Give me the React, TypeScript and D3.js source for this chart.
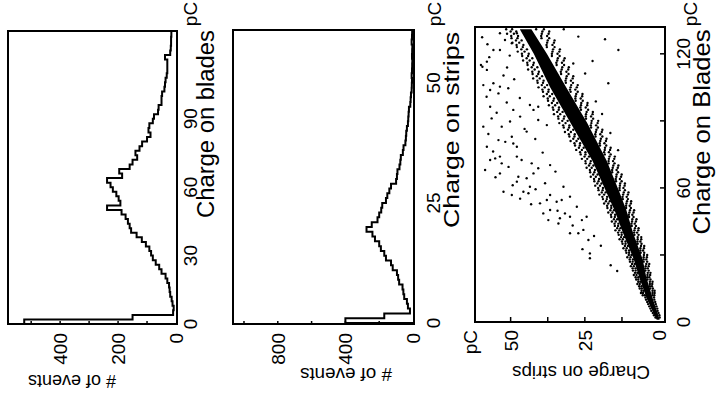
import React from 'react';
import * as d3 from 'd3';

// ---------- DATA ----------
// Panel 1: histogram of charge on blades (2 pC bins starting at 0)
const bladesBinWidth = 2;
const bladesCounts = [
  524, 150, 10, 8, 12, 15, 20, 22, 24, 30,
  36, 50, 58, 70, 80, 86, 92, 104, 118, 136,
  155, 160, 166, 174, 188, 238, 192, 198, 206, 218,
  226, 238, 186, 196, 160, 150, 134, 140, 126, 117,
  100, 88, 95, 92, 80, 76, 62, 60, 50, 50,
  48, 40, 38, 36, 32, 30, 30, 30, 38, 20,
  18, 17, 17, 16, 16,
];
const bladesTicks = [0, 30, 60, 90];
const events1Ticks = [0, 200, 400];
const events1Minor = [100, 200, 300, 400, 500];

// Panel 2: histogram of charge on strips (1 pC bins starting at 0)
const stripsBinWidth = 1;
const stripsCounts = [
  400, 170, 18, 30, 36, 52, 57, 62, 82, 88,
  95, 120, 130, 160, 170, 190, 200, 225, 240, 275,
  244, 210, 200, 188, 182, 160, 152, 140, 130, 100,
  95, 92, 80, 75, 72, 60, 56, 45, 42, 40,
  36, 30, 28, 26, 24, 16, 14, 12, 8, 7,
  6, 8, 6, 5, 4, 6, 5, 4, 8, 6,
  5,
];
const stripsTicks = [0, 25, 50];
const events2Ticks = [0, 400, 800];
const events2Minor = [200, 400, 600, 800, 1000];

// Panel 3: scatter, charge on strips vs charge on blades
const scBladesTicks = [0, 60, 120];
const scBladesMinor = [30, 60, 90, 120];
const scStripsTicks = [0, 25, 50];
const scStripsMinor = [12.5, 25, 37.5, 50];

// dense core of the correlation band: [blades, strips low, strips high]
const bandCore: [number, number, number][] = [
  [1, -0.2, 0.8], [5, 0.75, 2.25], [10, 2.0, 4.0], [20, 4.3, 6.7],
  [28, 5.5, 8.5], [40, 8.8, 12.2], [50, 11.0, 15.0], [58, 13.3, 17.7],
  [72, 17.6, 22.4], [89, 24.2, 29.8], [105, 31.3, 36.7], [120, 37.8, 42.2],
  [131, 43.0, 46.9],
];

// speckled edges of the band: [blades, [strips values]]
const bandFringe: [number, number[]][] = [
  [2, [1.2, -0.2]], [3, [1.7, -0.1]], [4, [2.1, 0.2]], [5, [2.6, 0.5]],
  [6, [2.9, 0.6]], [7, [3.3, 0.9]], [8, [3.7, 1.1]], [9, [4.0, 1.3]],
  [10, [4.4, 1.6]], [11, [4.6, 1.7]],
  [12, [4.8, 5.5, 2.2, 1.6]], [13, [5.4, 6.1, 2.2, 1.5]], [14, [5.2, 5.9, 2.2, 1.5]],
  [15, [5.8, 6.5, 3.0, 2.1]], [16, [5.9, 6.7, 3.1, 2.4]], [17, [6.5, 7.3, 3.1, 2.3]],
  [18, [6.3, 7.0, 3.1, 2.2]], [19, [7.0, 7.7, 3.9, 2.9]], [20, [7.0, 7.9, 4.0, 3.3]],
  [21, [7.6, 8.5, 3.9, 3.0]], [22, [7.3, 8.1, 3.8, 2.9]], [23, [7.9, 8.8, 4.6, 3.5]],
  [24, [7.9, 8.9, 4.6, 3.8]], [25, [8.5, 9.5, 4.5, 3.5]], [26, [8.2, 9.1, 4.3, 3.3]],
  [27, [8.9, 9.8, 5.2, 4.0]], [28, [8.8, 9.9, 5.2, 4.3]], [29, [9.6, 10.7, 5.2, 4.1]],
  [30, [9.3, 10.2, 5.1, 4.0]], [31, [10.1, 11.0, 6.2, 5.0]], [32, [10.1, 11.2, 6.3, 5.4]],
  [33, [10.9, 12.0, 6.3, 5.1]], [34, [10.5, 11.5, 6.1, 5.0]], [35, [11.3, 12.3, 7.2, 5.9]],
  [36, [11.3, 12.5, 7.3, 6.3]], [37, [12.2, 13.3, 7.2, 6.0]], [38, [11.8, 12.8, 7.2, 6.0]],
  [39, [12.6, 13.6, 8.3, 6.9]], [40, [12.6, 13.8, 8.4, 7.4]], [41, [13.4, 14.7, 8.3, 7.0]],
  [42, [13.0, 14.1, 8.1, 6.9]], [43, [13.8, 14.9, 9.2, 7.8]], [44, [13.7, 15.0, 9.3, 8.2]],
  [45, [14.6, 15.9, 9.1, 7.8]], [46, [14.1, 15.2, 9.0, 7.6]], [47, [14.9, 16.1, 10.1, 8.6]],
  [48, [14.8, 16.2, 10.2, 9.0]], [49, [15.7, 17.1, 10.0, 8.6]], [50, [15.2, 16.4, 9.8, 8.4]],
  [51, [16.1, 17.4, 11.1, 9.5]], [52, [16.1, 17.5, 11.1, 9.9]], [53, [17.1, 18.5, 11.0, 9.5]],
  [54, [16.6, 17.9, 10.8, 9.4]], [55, [17.6, 18.9, 12.2, 10.5]], [56, [17.5, 19.1, 12.3, 10.9]],
  [57, [18.5, 20.1, 12.1, 10.5]], [58, [18.0, 19.3, 11.9, 10.3]], [59, [19.0, 20.4, 13.3, 11.5]],
  [60, [18.9, 20.5, 13.3, 12.0]], [61, [19.9, 21.5, 13.2, 11.6]], [62, [19.4, 20.8, 13.1, 11.5]],
  [63, [20.4, 21.8, 14.5, 12.6]], [64, [20.2, 21.9, 14.6, 13.2]], [65, [21.3, 23.0, 14.4, 12.8]],
  [66, [20.7, 22.2, 14.3, 12.6]], [67, [21.8, 23.2, 15.8, 13.8]], [68, [21.6, 23.3, 15.8, 14.3]],
  [69, [22.7, 24.4, 15.6, 13.9]], [70, [22.1, 23.6, 15.4, 13.7]], [71, [23.2, 24.7, 17.0, 15.0]],
  [72, [23.0, 24.8, 17.0, 15.5]], [73, [24.2, 26.0, 16.9, 15.1]], [74, [23.6, 25.1, 16.7, 14.9]],
  [75, [24.8, 26.4, 18.3, 16.3]], [76, [24.8, 26.6, 18.5, 16.9]], [77, [26.0, 27.9, 18.3, 16.5]],
  [78, [25.4, 27.0, 18.2, 16.3]], [79, [26.7, 28.3, 19.9, 17.8]], [80, [26.6, 28.5, 20.0, 18.4]],
  [81, [27.8, 29.8, 19.8, 17.9]], [82, [27.2, 28.9, 19.6, 17.7]], [83, [28.5, 30.2, 21.4, 19.1]],
  [84, [28.4, 30.4, 21.5, 19.8]], [85, [29.7, 31.7, 21.3, 19.3]], [86, [28.9, 30.7, 21.1, 19.1]],
  [87, [30.3, 32.1, 22.9, 20.6]], [88, [30.2, 32.3, 23.0, 21.2]], [89, [31.5, 33.6, 22.8, 20.7]],
  [90, [30.8, 32.6, 22.7, 20.5]], [91, [32.1, 33.9, 24.6, 22.2]], [92, [31.9, 34.0, 24.7, 22.9]],
  [93, [33.3, 35.4, 24.6, 22.4]], [94, [32.5, 34.3, 24.4, 22.3]], [95, [33.8, 35.6, 26.3, 23.9]],
  [96, [33.7, 35.8, 26.5, 24.7]], [97, [35.0, 37.1, 26.3, 24.2]], [98, [34.3, 36.1, 26.2, 24.1]],
  [99, [35.6, 37.4, 28.1, 25.7]], [100, [35.4, 37.5, 28.2, 26.4]], [101, [36.8, 38.9, 28.1, 25.9]],
  [102, [36.0, 37.8, 27.9, 25.8]], [103, [37.3, 39.1, 29.8, 27.4]], [104, [37.2, 39.3, 30.0, 28.2]],
  [105, [38.5, 40.6, 29.8, 27.7]], [106, [37.7, 39.5, 29.6, 27.4]], [107, [39.1, 40.9, 31.4, 29.0]],
  [108, [38.9, 41.0, 31.5, 29.7]], [109, [40.2, 42.4, 31.3, 29.1]], [110, [39.4, 41.2, 31.1, 28.9]],
  [111, [40.7, 42.6, 33.0, 30.5]], [112, [40.5, 42.7, 33.1, 31.2]], [113, [41.9, 44.1, 32.8, 30.6]],
  [114, [41.0, 42.9, 32.6, 30.4]], [115, [42.4, 44.3, 34.5, 32.0]], [116, [42.2, 44.4, 34.6, 32.7]],
  [117, [43.6, 45.8, 34.3, 32.1]], [118, [42.7, 44.6, 34.1, 31.8]], [119, [44.1, 46.1, 36.1, 33.5]],
  [120, [43.9, 46.2, 36.1, 34.2]], [121, [45.3, 47.6, 35.9, 33.6]], [122, [44.5, 46.4, 35.7, 33.4]],
  [123, [45.9, 47.9, 37.8, 35.2]], [124, [45.7, 48.0, 37.9, 35.9]], [125, [47.1, 49.4, 37.7, 35.4]],
  [126, [46.3, 48.2, 37.5, 35.2]], [127, [47.7, 49.7, 39.6, 37.0]], [128, [47.5, 49.8, 39.7, 37.7]],
  [129, [48.9, 51.2, 39.5, 37.2]], [130, [48.1, 50.0, 39.3, 37.0]], [131, [49.5, 51.5, 41.4, 38.8]],
];

// isolated events away from the band: [blades, strips]
const outliers: [number, number][] = [
  [114.2, 59.5], [112.8, 58.0], [106.0, 59.2], [103.8, 56.9], [121.7, 53.6], [126.2, 51.9],
  [106.8, 55.8], [105.3, 53.6], [104.6, 50.8], [96.3, 56.9], [102.3, 54.1], [87.4, 59.2],
  [87.4, 53.0], [91.1, 56.4], [94.9, 49.1], [81.4, 54.1], [78.4, 58.0], [72.5, 56.9],
  [74.0, 53.6], [71.0, 53.0], [82.9, 49.6], [79.9, 49.1], [78.4, 47.9], [68.0, 58.6],
  [73.2, 55.2], [74.0, 47.9], [72.5, 46.3], [71.0, 42.9], [85.2, 44.6], [91.9, 46.8],
  [97.1, 43.5], [94.9, 42.3], [96.3, 40.7], [90.4, 40.7], [88.1, 37.8], [70.2, 36.7],
  [68.8, 40.7], [66.5, 53.6], [58.3, 52.4], [56.8, 49.6], [58.3, 45.7], [60.5, 43.5],
  [66.5, 42.3], [65.0, 47.4], [64.3, 44.6], [62.8, 47.9], [57.6, 44.0], [53.1, 40.1],
  [54.6, 37.8], [50.1, 36.7], [48.6, 39.0], [45.6, 37.3], [44.1, 33.9], [56.8, 36.7],
  [53.8, 34.5], [54.6, 32.8], [48.6, 31.7], [47.1, 30.0], [60.5, 32.2], [56.1, 30.0],
  [51.6, 27.7], [39.7, 30.0], [41.2, 25.5], [36.7, 23.8], [30.7, 23.3], [28.5, 23.3],
  [45.6, 26.0], [47.1, 24.4], [39.7, 27.2], [46.4, 33.4], [127.7, 27.2], [126.5, 18.2],
  [121.7, 13.7], [106.8, 17.1], [115.7, 28.9], [121.7, 55.8], [115.0, 60.0], [116.5, 58.0],
  [129.2, 53.6], [129.2, 47.9], [124.7, 49.6],
  [118.5, 57.2], [110.3, 52.4], [100.8, 58.1], [98.2, 51.3], [93.6, 54.7], [89.7, 50.2],
  [84.1, 57.5], [80.6, 51.8], [76.3, 55.9], [69.4, 50.7], [64.8, 55.1], [61.2, 49.3],
  [59.4, 41.6], [55.2, 46.8], [52.7, 43.1], [49.8, 34.2], [43.2, 29.1], [38.5, 21.9],
  [34.1, 19.6], [32.6, 25.8], [25.4, 16.3], [22.8, 14.1], [62.1, 38.4], [67.3, 34.9],
  [75.8, 39.2], [81.9, 41.7], [86.4, 45.3], [100.2, 46.9], [108.6, 48.8], [113.9, 51.2],
  [119.2, 50.3], [124.3, 57.8], [127.4, 59.6], [116.8, 22.4], [111.2, 24.9], [98.7, 21.3],
  [93.1, 19.2], [84.6, 16.4], [76.9, 13.8], [131.0, 32.1],
];

// ---------- LAYOUT / SCALES ----------
const W = 716;
const H = 401;
const FONT = '"Liberation Sans", Arial, Helvetica, sans-serif';

const p1 = { left: 8, right: 177, top: 31, bottom: 324 };
const p2 = { left: 233, right: 414, top: 30, bottom: 324 };
const p3 = { left: 475, right: 665, top: 27, bottom: 322 };

const ch1 = d3.scaleLinear().domain([0, 128.5]).range([324, 31]);
const ev1 = d3.scaleLinear().domain([0, 580]).range([176, 8]);
const ch2 = d3.scaleLinear().domain([0, 61]).range([323, 30]);
const ev2 = d3.scaleLinear().domain([0, 1065]).range([413, 233]);
const bl3 = d3.scaleLinear().domain([0, 132]).range([322, 27]);
const st3 = d3.scaleLinear().domain([-2, 62]).range([665, 475]);

function stepPath(counts: number[], w: number, ev: d3.ScaleLinear<number, number>, ch: d3.ScaleLinear<number, number>) {
  const pts: [number, number][] = [[0, 0]];
  counts.forEach((c, i) => {
    pts.push([c, i * w]);
    pts.push([c, (i + 1) * w]);
  });
  const line = d3.line<[number, number]>().x((d) => ev(d[0])).y((d) => ch(d[1]));
  return line(pts) || '';
}

type TP = { x: number; y: number; anchor?: string; size?: number; len?: number; rot?: number; children: React.ReactNode };
function RText({ x, y, anchor = 'middle', size = 19, len, rot = -90, children }: TP) {
  return (
    <text
      transform={`translate(${x},${y}) rotate(${rot})`}
      textAnchor={anchor as any}
      fontSize={size}
      fontFamily={FONT}
      fill="#000"
      {...(len ? { textLength: len, lengthAdjust: 'spacingAndGlyphs' } : {})}
    >
      {children}
    </text>
  );
}

export default function App() {
  const path1 = stepPath(bladesCounts, bladesBinWidth, ev1, ch1);
  const path2 = stepPath(stripsCounts, stripsBinWidth, ev2, ch2);
  const coreArea = d3
    .area<[number, number, number]>()
    .y((d) => bl3(d[0]))
    .x0((d) => st3(d[1]))
    .x1((d) => st3(d[2]))(bandCore) || '';
  const fringePts: [number, number][] = [];
  bandFringe.forEach(([b, arr]) => arr.forEach((s) => fringePts.push([b, s])));

  const frame = (p: typeof p1) => (
    <rect x={p.left} y={p.top} width={p.right - p.left} height={p.bottom - p.top} fill="none" stroke="#000" strokeWidth={2} />
  );

  return (
    <svg width={W} height={H} style={{ position: 'absolute', left: 0, top: 0, background: '#fff' }}>
      <defs>
        <clipPath id="c1"><rect x={p1.left} y={p1.top} width={p1.right - p1.left} height={p1.bottom - p1.top} /></clipPath>
        <clipPath id="c2"><rect x={p2.left} y={p2.top} width={p2.right - p2.left} height={p2.bottom - p2.top} /></clipPath>
        <clipPath id="c3"><rect x={p3.left} y={p3.top} width={p3.right - p3.left} height={p3.bottom - p3.top} /></clipPath>
      </defs>
      <rect x={0} y={0} width={W} height={H} fill="#fff" />

      {/* ---------- Panel 1 ---------- */}
      <path d={path1} fill="none" stroke="#000" strokeWidth={2} clipPath="url(#c1)" />
      {frame(p1)}
      {events1Minor.map((v) => (
        <line key={'m1' + v} x1={ev1(v)} x2={ev1(v)} y1={p1.bottom} y2={p1.bottom - 3} stroke="#000" strokeWidth={1.5} />
      ))}
      {bladesTicks.map((v) => (
        <RText key={'b' + v} x={197} y={ch1(v)}>{v}</RText>
      ))}
      <RText x={197} y={14}>pC</RText>
      {events1Ticks.map((v) => (
        <RText key={'e1' + v} x={ev1(v) + 7} y={333} anchor="end">{v}</RText>
      ))}
      <RText x={214} y={124} size={23} len={188}>Charge on blades</RText>
      <RText x={72} y={375} rot={180} size={19} len={88}># of events</RText>

      {/* ---------- Panel 2 ---------- */}
      <path d={path2} fill="none" stroke="#000" strokeWidth={2} clipPath="url(#c2)" />
      {frame(p2)}
      {events2Minor.map((v) => (
        <line key={'m2' + v} x1={ev2(v)} x2={ev2(v)} y1={p2.bottom} y2={p2.bottom - 3} stroke="#000" strokeWidth={1.5} />
      ))}
      {stripsTicks.map((v) => (
        <RText key={'s' + v} x={440} y={ch2(v)}>{v}</RText>
      ))}
      <RText x={441} y={14}>pC</RText>
      {events2Ticks.map((v) => (
        <RText key={'e2' + v} x={ev2(v) + 7} y={333} anchor="end">{v}</RText>
      ))}
      <RText x={459} y={130} size={22} len={196}>Charge on strips</RText>
      <RText x={346} y={368} rot={180} size={19} len={92}># of events</RText>

      {/* ---------- Panel 3 ---------- */}
      <g clipPath="url(#c3)">
        <path d={coreArea} fill="#000" />
        {fringePts.map((d, i) => (
          <circle key={'f' + i} cx={st3(d[1])} cy={bl3(d[0])} r={1.2} fill="#000" />
        ))}
        {outliers.map((d, i) => (
          <circle key={'o' + i} cx={st3(d[1])} cy={bl3(d[0])} r={1.2} fill="#000" />
        ))}
      </g>
      {frame(p3)}
      {scStripsMinor.map((v) => (
        <line key={'m3' + v} x1={st3(v)} x2={st3(v)} y1={p3.bottom} y2={p3.bottom - 5} stroke="#000" strokeWidth={1.5} />
      ))}
      {scBladesMinor.map((v) => (
        <line key={'m4' + v} x1={p3.right} x2={p3.right - 5} y1={bl3(v)} y2={bl3(v)} stroke="#000" strokeWidth={1.5} />
      ))}
      {scBladesTicks.map((v) => (
        <RText key={'sb' + v} x={690} y={bl3(v)}>{v}</RText>
      ))}
      <RText x={697} y={14}>pC</RText>
      {scStripsTicks.map((v) => (
        <RText key={'ss' + v} x={st3(v) + 7} y={330} anchor="end">{v}</RText>
      ))}
      <RText x={477} y={330} anchor="end">pC</RText>
      <RText x={710} y={132} size={24} len={205}>Charge on Blades</RText>
      <RText x={581} y={366} rot={180} size={18} len={138}>Charge on strips</RText>
    </svg>
  );
}
